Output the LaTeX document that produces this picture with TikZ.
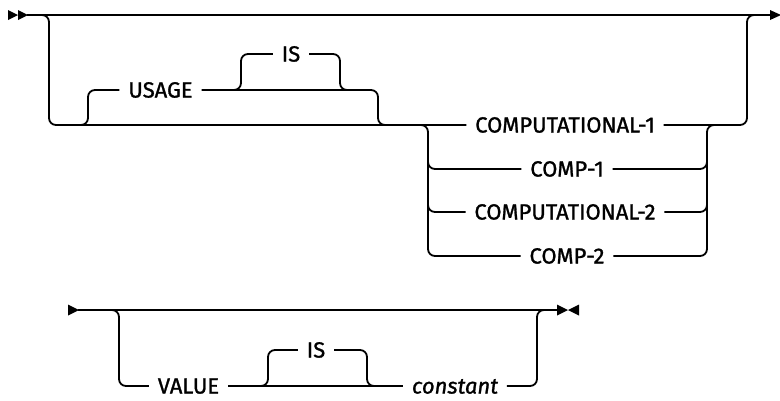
\documentclass[tikz,border=0pt]{standalone}
\usepackage{fontspec}
\setmainfont{Fira Sans}
\newfontfamily\kwfont{Fira Sans}[FakeBold=1.2]
\begin{document}
\begin{tikzpicture}[x=1pt,y=-1pt,line width=1.8pt,
  kw/.style={font=\kwfont\fontsize{22}{26}\selectfont, inner xsep=8pt, inner ysep=0pt, text height=15.1pt, text depth=0pt},
  var/.style={kw, font=\kwfont\fontsize{22}{26}\selectfont\itshape},
  rr/.style={rounded corners=7pt},
  tipmark/.style={fill=black, draw=none}]
\useasboundingbox (0,0) rectangle (780,400);

% ---------- first diagram ----------
\coordinate (A0) at (27,15);
\coordinate (A9) at (772,15);
\draw (A0) -- (A9);
\fill[tipmark] (8,10) -- (18,15) -- (8,20) -- cycle;
\fill[tipmark] (18,10) -- (28,15) -- (18,20) -- cycle;
\fill[tipmark] (770,10) -- (781,15) -- (770,20) -- cycle;

\node[kw] (usage) at (160.5,90) {USAGE};
\node[kw] (is1) at (291,54) {IS};
\node[kw] (c1) at (565,125) {COMPUTATIONAL-1};
\node[kw] (c2) at (567,169) {COMP-1};
\node[kw] (c3) at (565,212) {COMPUTATIONAL-2};
\node[kw] (c4) at (567,256) {COMP-2};

\coordinate (L0) at (36,15);
\coordinate (L1) at (49,15);
\coordinate (L2) at (49,125);
\draw[rr] (L0) -- (L1) -- (L2) -- (c1.west);
\coordinate (R2) at (747,125);
\coordinate (R1) at (747,15);
\coordinate (R0) at (760,15);
\draw[rr] (c1.east) -- (R2) -- (R1) -- (R0);

\coordinate (U0) at (75,125);
\coordinate (U1) at (88,125);
\coordinate (U2) at (88,90);
\coordinate (U3) at (378,90);
\coordinate (U4) at (378,125);
\coordinate (U5) at (391,125);
\draw[rr] (U0) -- (U1) -- (U2) -- (usage.west);
\draw[rr] (usage.east) -- (U3) -- (U4) -- (U5);

\coordinate (I0) at (228,90);
\coordinate (I1) at (241,90);
\coordinate (I2) at (241,54);
\coordinate (I3) at (340,54);
\coordinate (I4) at (340,90);
\coordinate (I5) at (353,90);
\draw[rr] (I0) -- (I1) -- (I2) -- (is1.west);
\draw[rr] (is1.east) -- (I3) -- (I4) -- (I5);

\coordinate (K0) at (415,125);
\coordinate (K1) at (428,125);
\coordinate (K2a) at (428,155);
\coordinate (K2) at (428,169);
\coordinate (K3a) at (428,198);
\coordinate (K3) at (428,212);
\coordinate (K4) at (428,256);
\draw[rr] (K0) -- (K1) -- (K4) -- (c4.west);
\draw[rr] (K2a) -- (K2) -- (c2.west);
\draw[rr] (K3a) -- (K3) -- (c3.west);

\coordinate (M0) at (720,125);
\coordinate (M1) at (707,125);
\coordinate (M2a) at (707,155);
\coordinate (M2) at (707,169);
\coordinate (M3a) at (707,198);
\coordinate (M3) at (707,212);
\coordinate (M4) at (707,256);
\draw[rr] (c4.east) -- (M4) -- (M1) -- (M0);
\draw[rr] (c2.east) -- (M2) -- (M2a);
\draw[rr] (c3.east) -- (M3) -- (M3a);

% ---------- second diagram ----------
\coordinate (B0) at (78,310);
\coordinate (B9) at (558,310);
\draw (B0) -- (B9);
\fill[tipmark] (68,304.5) -- (79,310) -- (68,315.5) -- cycle;
\fill[tipmark] (557,304.5) -- (568,310) -- (557,315.5) -- cycle;
\fill[tipmark] (579,304.5) -- (568,310) -- (579,315.5) -- cycle;

\node[kw] (value) at (188.5,386) {VALUE};
\node[kw] (is2) at (316,350) {IS};
\node[var] (cst) at (455,386) {constant};

\coordinate (P0) at (106,310);
\coordinate (P1) at (119,310);
\coordinate (P2) at (119,386);
\draw[rr] (P0) -- (P1) -- (P2) -- (value.west);
\draw (value.east) -- (cst.west);
\coordinate (Q2) at (537,386);
\coordinate (Q1) at (537,310);
\coordinate (Q0) at (550,310);
\draw[rr] (cst.east) -- (Q2) -- (Q1) -- (Q0);

\coordinate (J0) at (255,386);
\coordinate (J1) at (268,386);
\coordinate (J2) at (268,350);
\coordinate (J3) at (367,350);
\coordinate (J4) at (367,386);
\coordinate (J5) at (380,386);
\draw[rr] (J0) -- (J1) -- (J2) -- (is2.west);
\draw[rr] (is2.east) -- (J3) -- (J4) -- (J5);
\end{tikzpicture}
\end{document}
